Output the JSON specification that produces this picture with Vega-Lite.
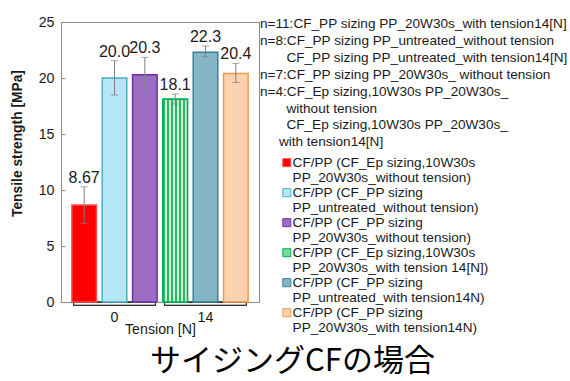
{
  "$schema": "https://vega.github.io/schema/vega-lite/v6.json",
  "width": 198,
  "height": 280,
  "autosize": {"type": "none"},
  "padding": {"left": 61, "top": 22, "right": 311, "bottom": 79},
  "background": "white",
  "config": {
    "font": "Liberation Sans",
    "view": {"stroke": "#8c8c8c", "strokeWidth": 1},
    "axisY": {
      "grid": false,
      "domain": false,
      "tickSize": -4,
      "tickColor": "#8c8c8c",
      "labelPadding": 11,
      "labelFontSize": 14.2,
      "labelColor": "#1a1a1a",
      "titleFontSize": 13.8,
      "titleFontWeight": "bold",
      "titleColor": "#1a1a1a",
      "titleX": -44,
      "titleY": 121,
      "titleBaseline": "middle",
      "titleAlign": "center",
      "titleAngle": -90
    },
    "axisX": {
      "labelAngle": 0,
      "ticks": false,
      "domain": false,
      "labelPadding": 8,
      "labelFontSize": 14.2,
      "labelColor": "#1a1a1a",
      "titleFontSize": 14.2,
      "titleFontWeight": "normal",
      "titleColor": "#1a1a1a",
      "titlePadding": -2
    }
  },
  "title": {
    "text": "サイジングCFの場合",
    "orient": "bottom",
    "anchor": "start",
    "dx": 140,
    "offset": 11,
    "fontSize": 31,
    "fontWeight": "normal",
    "font": "Noto Sans CJK JP",
    "color": "#000000",
    "baseline": "top"
  },
  "data": {
    "values": [
      {"series": "CF/PP (CF_Ep sizing,10W30s|PP_20W30s_without tension)", "tension": "0", "slot": "a", "value": 8.67, "lo": 7.02, "hi": 10.29},
      {"series": "CF/PP (CF_PP sizing|PP_untreated_without tension)", "tension": "0", "slot": "b", "value": 20.0, "lo": 18.48, "hi": 21.55},
      {"series": "CF/PP (CF_PP sizing|PP_20W30s_without tension)", "tension": "0", "slot": "c", "value": 20.3, "lo": 18.78, "hi": 21.84},
      {"series": "CF/PP (CF_Ep sizing,10W30s|PP_20W30s_with tension 14[N])", "tension": "14", "slot": "a", "value": 18.1, "lo": 17.68, "hi": 18.57},
      {"series": "CF/PP (CF_PP sizing|PP_untreated_with tension14N)", "tension": "14", "slot": "b", "value": 22.3, "lo": 21.9, "hi": 22.86},
      {"series": "CF/PP (CF_PP sizing|PP_20W30s_with tension14N)", "tension": "14", "slot": "c", "value": 20.4, "lo": 19.6, "hi": 21.3}
    ]
  },
  "encoding": {
    "x": {
      "field": "tension",
      "type": "nominal",
      "title": "Tension [N]",
      "scale": {"paddingInner": 0, "paddingOuter": 0.088}
    }
  },
  "layer": [
    {
      "mark": {"type": "bar", "fill": "transparent", "stroke": "#333333", "strokeWidth": 1, "width": {"band": 0.9}},
      "encoding": {
        "y": {
          "datum": -0.3,
          "type": "quantitative",
          "title": "Tensile strength [MPa]",
          "scale": {"domain": [0, 25], "nice": false},
          "axis": {
            "values": [0, 5, 10, 15, 20, 25],
            "titleFontSize": 13.8,
            "titleFontWeight": "bold",
            "titleX": -44,
            "titleY": 121,
            "titleBaseline": "middle",
            "titleAlign": "center",
            "titleAngle": -90
          }
        },
        "y2": {"datum": 0}
      }
    },
    {
      "mark": {"type": "bar", "strokeWidth": 1.5},
      "encoding": {
        "xOffset": {"field": "slot", "type": "nominal", "scale": {"paddingInner": 0.19, "paddingOuter": 0.095}},
        "y": {"field": "value", "type": "quantitative", "title": "Tensile strength [MPa]"},
        "fill": {
          "field": "series",
          "type": "nominal",
          "scale": {
            "domain": [
              "CF/PP (CF_Ep sizing,10W30s|PP_20W30s_without tension)",
              "CF/PP (CF_PP sizing|PP_untreated_without tension)",
              "CF/PP (CF_PP sizing|PP_20W30s_without tension)",
              "CF/PP (CF_Ep sizing,10W30s|PP_20W30s_with tension 14[N])",
              "CF/PP (CF_PP sizing|PP_untreated_with tension14N)",
              "CF/PP (CF_PP sizing|PP_20W30s_with tension14N)"
            ],
            "range": ["#ff0000", "#b4e6f6", "#9b6ec4", "#7dd69a", "#86b6c5", "#fcd3b0"]
          },
          "legend": {
            "orient": "none",
            "legendX": 199,
            "legendY": -5,
            "padding": 0,
            "title": [
              "n=11:CF_PP sizing PP_20W30s_with tension14[N]",
              "n=8:CF_PP sizing PP_untreated_without tension",
              "\u200b\u00a0\u00a0\u00a0\u00a0\u00a0\u00a0\u00a0CF_PP sizing PP_untreated_with tension14[N]",
              "n=7:CF_PP sizing PP_20W30s_ without tension",
              "n=4:CF_Ep sizing,10W30s PP_20W30s_",
              "\u200b\u00a0\u00a0\u00a0\u00a0\u00a0\u00a0\u00a0without tension",
              "\u200b\u00a0\u00a0\u00a0\u00a0\u00a0\u00a0\u00a0CF_Ep sizing,10W30s PP_20W30s_",
              "\u200b\u00a0\u00a0\u00a0\u00a0\u00a0with tension14[N]"
            ],
            "titleFontSize": 13.6,
            "titleFontWeight": "normal",
            "titleColor": "#1a1a1a",
            "titleLineHeight": 16.9,
            "titlePadding": 7,
            "titleLimit": 400,
            "labelFontSize": 13.6,
            "labelColor": "#1a1a1a",
            "labelExpr": "split(datum.label, '|')",
            "labelLimit": 300,
            "labelOffset": -1,
            "labelBaseline": "middle",
            "symbolType": "square",
            "symbolSize": 64,
            "symbolOffset": 20,
            "symbolStrokeWidth": 1,
            "rowPadding": 0
          }
        },
        "stroke": {
          "field": "series",
          "type": "nominal",
          "scale": {
            "domain": [
              "CF/PP (CF_Ep sizing,10W30s|PP_20W30s_without tension)",
              "CF/PP (CF_PP sizing|PP_untreated_without tension)",
              "CF/PP (CF_PP sizing|PP_20W30s_without tension)",
              "CF/PP (CF_Ep sizing,10W30s|PP_20W30s_with tension 14[N])",
              "CF/PP (CF_PP sizing|PP_untreated_with tension14N)",
              "CF/PP (CF_PP sizing|PP_20W30s_with tension14N)"
            ],
            "range": ["#ff4d4d", "#4bacc6", "#7030a0", "#00b050", "#31849b", "#f79646"]
          }
        }
      }
    },
    {
      "transform": [{"filter": "datum.tension === '14' && datum.slot === 'a'"}],
      "mark": {
        "type": "bar",
        "strokeWidth": 1.5,
        "stroke": "#00b050",
        "fill": {
          "gradient": "linear",
          "x1": 0, "y1": 0, "x2": 1, "y2": 0,
          "stops": [
            {"offset": 0, "color": "#2cb85f"}, {"offset": 0.083, "color": "#2cb85f"},
            {"offset": 0.083, "color": "#cdf0d9"}, {"offset": 0.167, "color": "#cdf0d9"},
            {"offset": 0.167, "color": "#2cb85f"}, {"offset": 0.25, "color": "#2cb85f"},
            {"offset": 0.25, "color": "#cdf0d9"}, {"offset": 0.333, "color": "#cdf0d9"},
            {"offset": 0.333, "color": "#2cb85f"}, {"offset": 0.417, "color": "#2cb85f"},
            {"offset": 0.417, "color": "#cdf0d9"}, {"offset": 0.5, "color": "#cdf0d9"},
            {"offset": 0.5, "color": "#2cb85f"}, {"offset": 0.583, "color": "#2cb85f"},
            {"offset": 0.583, "color": "#cdf0d9"}, {"offset": 0.667, "color": "#cdf0d9"},
            {"offset": 0.667, "color": "#2cb85f"}, {"offset": 0.75, "color": "#2cb85f"},
            {"offset": 0.75, "color": "#cdf0d9"}, {"offset": 0.833, "color": "#cdf0d9"},
            {"offset": 0.833, "color": "#2cb85f"}, {"offset": 0.917, "color": "#2cb85f"},
            {"offset": 0.917, "color": "#cdf0d9"}, {"offset": 1, "color": "#cdf0d9"}
          ]
        }
      },
      "encoding": {
        "xOffset": {"field": "slot", "type": "nominal"},
        "y": {"field": "value", "type": "quantitative", "title": "Tensile strength [MPa]"}
      }
    },
    {
      "mark": {"type": "rule", "color": "#808080", "strokeWidth": 1},
      "encoding": {
        "xOffset": {"field": "slot", "type": "nominal"},
        "y": {"field": "lo", "type": "quantitative", "title": "Tensile strength [MPa]"},
        "y2": {"field": "hi"}
      }
    },
    {
      "mark": {"type": "tick", "orient": "horizontal", "size": 7, "thickness": 1, "color": "#808080"},
      "encoding": {
        "xOffset": {"field": "slot", "type": "nominal"},
        "y": {"field": "lo", "type": "quantitative", "title": "Tensile strength [MPa]"}
      }
    },
    {
      "mark": {"type": "tick", "orient": "horizontal", "size": 7, "thickness": 1, "color": "#808080"},
      "encoding": {
        "xOffset": {"field": "slot", "type": "nominal"},
        "y": {"field": "hi", "type": "quantitative", "title": "Tensile strength [MPa]"}
      }
    },
    {
      "mark": {"type": "text", "fontSize": 16, "baseline": "bottom", "dy": -1, "color": "#1a1a1a"},
      "encoding": {
        "xOffset": {"field": "slot", "type": "nominal"},
        "y": {"field": "hi", "type": "quantitative", "title": "Tensile strength [MPa]"},
        "text": {"field": "value", "type": "quantitative", "format": ".3g"}
      }
    }
  ]
}
